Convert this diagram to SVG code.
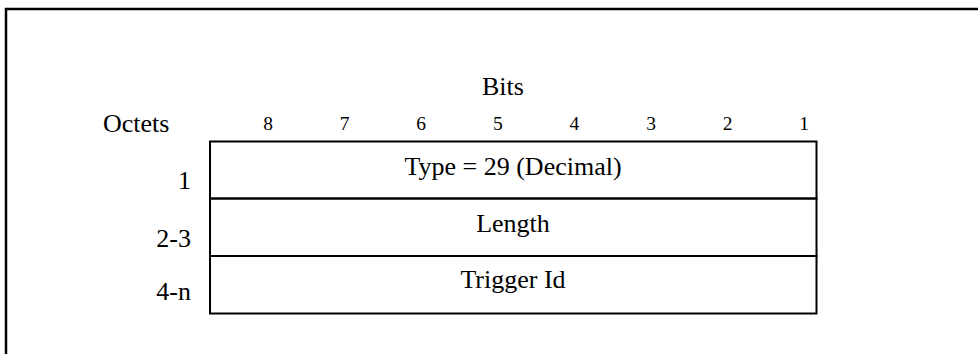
<svg xmlns="http://www.w3.org/2000/svg" width="978" height="354" viewBox="0 0 978 354">
<style>
text{font-family:"Liberation Serif","Times New Roman",serif;fill:#000}
.lbl{font-size:26px}
.bit{font-size:19.5px;text-anchor:middle}
.ctr{text-anchor:middle}
.end{text-anchor:end}
.box{fill:none;stroke:#000;stroke-width:2}
</style>
<rect width="978" height="354" fill="#fff"/>
<path d="M6,354 V9 H978" fill="none" stroke="#000" stroke-width="2.5"/>
<g id="header">
<text class="lbl ctr" x="503" y="95">Bits</text>
<text class="lbl" x="103" y="131.5">Octets</text>
<text class="bit" x="268" y="129.5">8</text>
<text class="bit" x="344.6" y="129.5">7</text>
<text class="bit" x="421.2" y="129.5">6</text>
<text class="bit" x="497.8" y="129.5">5</text>
<text class="bit" x="574.4" y="129.5">4</text>
<text class="bit" x="651" y="129.5">3</text>
<text class="bit" x="727.6" y="129.5">2</text>
<text class="bit" x="804.2" y="129.5">1</text>
</g>
<g id="row1">
<rect class="box" x="210" y="141.5" width="606.5" height="57"/>
<text class="lbl ctr" x="513" y="175">Type = 29 (Decimal)</text>
<text class="lbl end" x="191" y="189.3">1</text>
</g>
<g id="row2">
<rect class="box" x="210" y="198.5" width="606.5" height="57.5"/>
<text class="lbl ctr" x="513" y="231.7">Length</text>
<text class="lbl end" x="191" y="246.5">2-3</text>
</g>
<g id="row3">
<rect class="box" x="210" y="256" width="606.5" height="57.5"/>
<text class="lbl ctr" x="513" y="288.3">Trigger Id</text>
<text class="lbl end" x="191" y="300">4-n</text>
</g>
<g id="connectors"/>
</svg>
